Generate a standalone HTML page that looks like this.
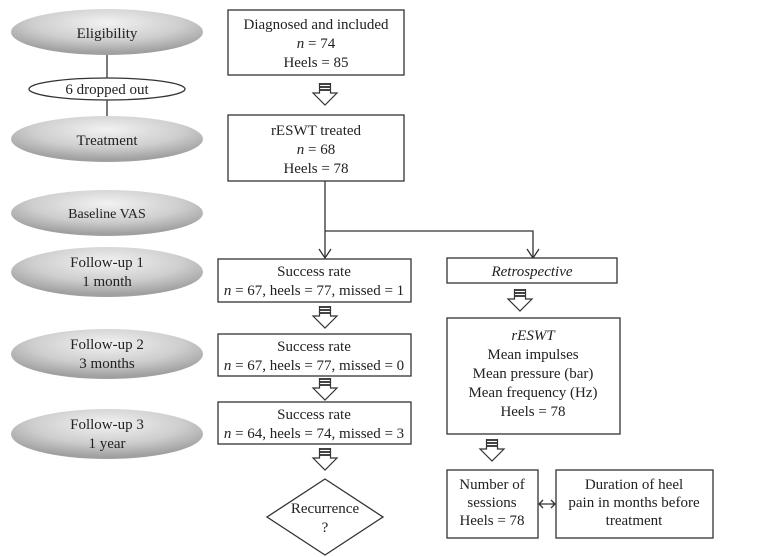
<!DOCTYPE html>
<html><head><meta charset="utf-8"><style>
html,body{margin:0;padding:0;background:#fff;}
svg{display:block;}
text{font-family:"Liberation Serif",serif;font-size:15px;fill:#222;text-anchor:middle;}
.b{fill:#fff;stroke:#333;stroke-width:1.3;}
.l{stroke:#333;stroke-width:1.3;fill:none;}
</style></head><body>
<svg width="767" height="557" viewBox="0 0 767 557">
<defs>
<radialGradient id="g" cx="50%" cy="30%" r="65%">
<stop offset="0" stop-color="#f2f2f2"/><stop offset="0.6" stop-color="#cecece"/><stop offset="1" stop-color="#a0a0a0"/>
</radialGradient>
<g id="ar">
<rect x="-5.5" y="0" width="11" height="2" fill="#444"/>
<rect x="-5.5" y="3" width="11" height="2" fill="#444"/>
<rect x="-5.5" y="6" width="11" height="2" fill="#444"/>
<path d="M-5.5 8 V10 H-12 L0 22 L12 10 H5.5 V8" fill="#fff" stroke="#333" stroke-width="1.2"/>
<path d="M-5.5 0 V8 M5.5 0 V8" stroke="#333" stroke-width="1.2"/>
</g>
</defs>
<line class="l" x1="107" y1="50" x2="107" y2="120"/>
<ellipse cx="107" cy="32" rx="96" ry="23" fill="url(#g)"/>
<text x="107" y="38">Eligibility</text>
<ellipse cx="107" cy="89" rx="78" ry="11" class="b"/>
<text x="107" y="94">6 dropped out</text>
<ellipse cx="107" cy="139" rx="96" ry="23" fill="url(#g)"/>
<text x="107" y="145">Treatment</text>
<ellipse cx="107" cy="213" rx="96" ry="23" fill="url(#g)"/>
<text x="107" y="218" style="font-size:14px">Baseline VAS</text>
<ellipse cx="107" cy="272" rx="96" ry="25" fill="url(#g)"/>
<text x="107" y="267">Follow-up 1</text><text x="107" y="286">1 month</text>
<ellipse cx="107" cy="354" rx="96" ry="25" fill="url(#g)"/>
<text x="107" y="349">Follow-up 2</text><text x="107" y="368">3 months</text>
<ellipse cx="107" cy="434" rx="96" ry="25" fill="url(#g)"/>
<text x="107" y="429">Follow-up 3</text><text x="107" y="448">1 year</text>

<rect class="b" x="228" y="10" width="176" height="65"/>
<text x="316" y="29">Diagnosed and included</text>
<text x="316" y="48"><tspan font-style="italic">n</tspan> = 74</text>
<text x="316" y="67">Heels = 85</text>
<use href="#ar" x="325" y="83"/>
<rect class="b" x="228" y="115" width="176" height="66"/>
<text x="316" y="135">rESWT treated</text>
<text x="316" y="154"><tspan font-style="italic">n</tspan> = 68</text>
<text x="316" y="173">Heels = 78</text>
<path class="l" d="M325 181 V257 M325 231 H533 V257"/>
<path d="M319 249 L325 258 L331 249" class="l"/>
<path d="M527 249 L533 258 L539 249" class="l"/>

<rect class="b" x="218" y="259" width="193" height="43"/>
<text x="314" y="276">Success rate</text>
<text x="314" y="295"><tspan font-style="italic">n</tspan> = 67, heels = 77, missed = 1</text>
<use href="#ar" x="325" y="306"/>
<rect class="b" x="218" y="334" width="193" height="42"/>
<text x="314" y="351">Success rate</text>
<text x="314" y="370"><tspan font-style="italic">n</tspan> = 67, heels = 77, missed = 0</text>
<use href="#ar" x="325" y="378"/>
<rect class="b" x="218" y="402" width="193" height="42"/>
<text x="314" y="419">Success rate</text>
<text x="314" y="438"><tspan font-style="italic">n</tspan> = 64, heels = 74, missed = 3</text>
<use href="#ar" x="325" y="448"/>
<path class="b" d="M325 479 L383 517 L325 555 L267 517 Z"/>
<text x="325" y="513">Recurrence</text>
<text x="325" y="532">?</text>

<rect class="b" x="447" y="258" width="170" height="25"/>
<text x="532" y="276" font-style="italic">Retrospective</text>
<use href="#ar" x="520" y="289"/>
<rect class="b" x="447" y="318" width="173" height="116"/>
<text x="533" y="340" font-style="italic">rESWT</text>
<text x="533" y="359">Mean impulses</text>
<text x="533" y="378">Mean pressure (bar)</text>
<text x="533" y="397">Mean frequency (Hz)</text>
<text x="533" y="416">Heels = 78</text>
<use href="#ar" x="492" y="439"/>
<rect class="b" x="447" y="470" width="91" height="68"/>
<text x="492" y="489">Number of</text>
<text x="492" y="507">sessions</text>
<text x="492" y="525">Heels = 78</text>
<rect class="b" x="556" y="470" width="157" height="68"/>
<text x="634" y="489">Duration of heel</text>
<text x="634" y="507">pain in months before</text>
<text x="634" y="525">treatment</text>
<path class="l" d="M539 504 H555 M543 500 L539 504 L543 508 M551 500 L555 504 L551 508"/>
</svg>
</body></html>
